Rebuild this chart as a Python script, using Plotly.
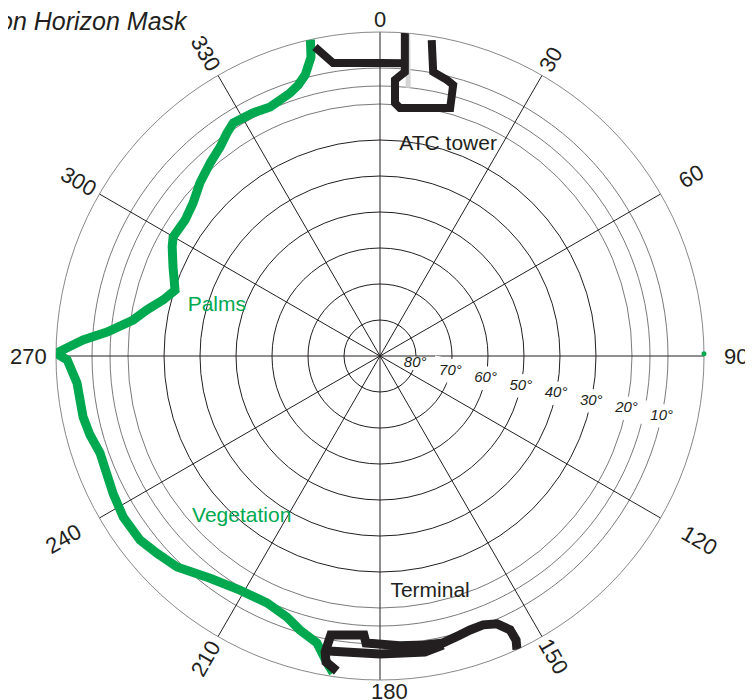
import math
import plotly.graph_objects as go

# ---------------- data (azimuth deg clockwise from N, elevation deg) ----------------
veg_az = [347.6, 347.0, 345.1, 343.2, 341.1, 336.2, 332.4, 327.8, 325.5, 322.6, 318.6,
          313.9, 309.3, 304.9, 299.9, 297.7, 293.3, 287.8, 284.5, 281.2, 278.3, 275.0,
          273.1, 270.5, 269.3, 264.9, 258.4, 254.8, 250.9, 242.8, 237.9, 232.5, 228.5,
          223.9, 217.4, 210.9, 204.6, 199.6, 196.3, 192.4, 189.8, 188.4]
veg_el = [0.0, 4.8, 9.2, 11.4, 12.8, 14.4, 13.8, 13.5, 14.9, 16.9, 18.6,
          20.6, 22.9, 24.0, 23.7, 24.8, 27.4, 30.2, 27.8, 24.0, 20.7, 13.9,
          7.4, 0.0, 3.1, 5.5, 5.8, 6.5, 7.7, 6.6, 5.8, 6.0, 7.3,
          8.7, 12.3, 14.2, 14.6, 13.0, 10.7, 8.4, 3.5, 1.0]

veg_dot_az = [89.6]
veg_dot_el = [0.0]

atc_az = [348.1, 350.9, 0.0, 4.5, None,
          4.4, 5.0, 3.1, 3.4, 4.6, 15.8, 15.1, 13.6, 10.6, 9.3]
atc_el = [2.3, 7.6, 8.6, 8.4, None,
          0.0, 10.8, 13.2, 19.6, 20.9, 18.4, 12.0, 11.1, 9.7, 1.1]

ghost_az = [4.9, 6.0]
ghost_el = [0.0, 15.1]

term_az = [187.8, 190.0, 190.5, 190.0, 183.3, 182.8, 176.1, 171.1, 167.6, 164.4,
           161.8, 159.0, 156.4, 154.6, 154.4, 155.0, None,
           190.0, 180.0, 171.4, 167.7]
term_el = [1.7, 3.7, 6.4, 11.3, 12.4, 10.2, 9.3, 8.75, 8.4, 9.3,
           9.9, 10.0, 8.8, 5.8, 2.5, 0.0, None,
           6.8, 7.2, 6.8, 7.8]

label_text = ["ATC tower", "Palms", "Vegetation", "Terminal"]
label_az = [17.9, 287.0, 220.7, 168.0]
label_el = [28.4, 42.6, 31.1, 23.1]

major_el = [80, 70, 60, 50, 40, 30]
minor_el = [20, 15, 10]
elev_label_vals = [80, 70, 60, 50, 40, 30, 20, 10]
elev_label_text = ["80°", "70°", "60°", "50°", "40°", "30°", "20°", "10°"]

az_ticks = [0, 30, 60, 90, 120, 150, 180, 210, 240, 270, 300, 330]
az_tick_text = ["0", "30", "60", "90", "120", "150", "180", "210", "240", "270", "300", "330"]

# ---------------- styling ----------------
DARK = "#231f20"
GRAY = "#7a7a7c"
GREEN = "#00a94f"
FONT = "Liberation Sans, Arial, sans-serif"


def zen(els):
    return [None if e is None else 90 - e for e in els]


fig = go.Figure()

# dummy trace so the under-layer polar (minor rings) is drawn
fig.add_trace(go.Scatterpolar(r=[0], theta=[0], mode="markers", marker=dict(opacity=0),
                              subplot="polar", hoverinfo="skip", showlegend=False))

# white band/mask where elevation labels sit
fig.add_trace(go.Scatterpolar(r=[15, 86], theta=[102, 102], mode="lines",
                              line=dict(color="white", width=24), subplot="polar2",
                              hoverinfo="skip", showlegend=False))
fig.add_trace(go.Scatterpolar(r=zen([80]), theta=[102], mode="markers",
                              marker=dict(color="white", size=14, symbol="circle"),
                              subplot="polar2", hoverinfo="skip", showlegend=False))

# elevation labels
fig.add_trace(go.Scatterpolar(r=zen(elev_label_vals), theta=[102] * len(elev_label_vals),
                              mode="text", text=elev_label_text, textposition="middle center",
                              textfont=dict(family=FONT, size=15, color=DARK, style="italic"),
                              subplot="polar2", hoverinfo="skip", showlegend=False))

# faint ghost line
fig.add_trace(go.Scatterpolar(r=zen(ghost_el), theta=ghost_az, mode="lines",
                              line=dict(color="#d4d4d4", width=5), subplot="polar2",
                              cliponaxis=False, showlegend=False))

# vegetation / palms mask
fig.add_trace(go.Scatterpolar(r=zen(veg_el), theta=veg_az, mode="lines",
                              line=dict(color=GREEN, width=9), subplot="polar2",
                              cliponaxis=False, showlegend=False, name="Vegetation"))
fig.add_trace(go.Scatterpolar(r=zen(veg_dot_el), theta=veg_dot_az, mode="markers",
                              marker=dict(color=GREEN, size=5), subplot="polar2",
                              cliponaxis=False, showlegend=False))

# ATC tower and terminal
fig.add_trace(go.Scatterpolar(r=zen(atc_el), theta=atc_az, mode="lines",
                              line=dict(color=DARK, width=8), connectgaps=False,
                              subplot="polar2", cliponaxis=False, showlegend=False,
                              name="ATC tower"))
fig.add_trace(go.Scatterpolar(r=zen(term_el), theta=term_az, mode="lines",
                              line=dict(color=DARK, width=9), connectgaps=False,
                              subplot="polar2", cliponaxis=False, showlegend=False,
                              name="Terminal"))

# obstruction labels
fig.add_trace(go.Scatterpolar(r=zen(label_el), theta=label_az, mode="text",
                              text=label_text, textposition="middle center",
                              textfont=dict(family=FONT, size=21,
                                            color=[DARK, GREEN, GREEN, DARK]),
                              subplot="polar2", cliponaxis=False, showlegend=False))

common_ang = dict(rotation=90, direction="clockwise", tickmode="array", tickvals=az_ticks,
                  showticklabels=False, ticks="")

# the page body adds an 8px offset, so the figure is sized to end at the window edge
fig.update_layout(
    width=745, height=692,
    margin=dict(l=48, r=49, t=24, b=20),
    paper_bgcolor="white",
    showlegend=False,
    polar=dict(
        domain=dict(x=[0, 1], y=[0, 1]),
        bgcolor="white",
        angularaxis=dict(**common_ang, showgrid=False, showline=False),
        radialaxis=dict(range=[0, 90], tickmode="array", tickvals=zen(minor_el),
                        showticklabels=False, ticks="", showline=False,
                        gridcolor=GRAY, gridwidth=0.8),
    ),
    polar2=dict(
        domain=dict(x=[0, 1], y=[0, 1]),
        bgcolor="rgba(0,0,0,0)",
        angularaxis=dict(**common_ang, showgrid=True, gridcolor=DARK, gridwidth=1,
                         showline=True, linecolor=GRAY, linewidth=0.9,
                         layer="below traces"),
        radialaxis=dict(range=[0, 90], tickmode="array", tickvals=zen(major_el),
                        showticklabels=False, ticks="", showline=False,
                        gridcolor=DARK, gridwidth=1.1, layer="below traces"),
    ),
)

# azimuth labels, rotated along the radial direction
label_r_px = [337, 342, 359, 356, 369, 347, 335, 349, 365, 352, 348, 349]
label_xshift = [0, 0, 0, 0, 0, 0, 9, 0, 0, 0, 0, 0]
plot_px = 648.0
annotations = []
for az, txt, rp, xs in zip(az_ticks, az_tick_text, label_r_px, label_xshift):
    a = math.radians(az)
    if az % 90 == 0:
        ang = 0
    elif az < 180:
        ang = az - 90
    else:
        ang = az - 270
    annotations.append(dict(
        x=0.5 + rp * math.sin(a) / plot_px, y=0.5 + rp * math.cos(a) / plot_px,
        xref="paper", yref="paper", text=txt, showarrow=False, textangle=ang,
        xanchor="center", yanchor="middle", xshift=xs,
        font=dict(family=FONT, size=22, color=DARK)))

# title (partially cut off on the left, as in the original)
annotations.append(dict(
    x=(190 - 56) / plot_px, y=(680 - 21) / plot_px, xref="paper", yref="paper",
    text="Obstruction Horizon Mask", showarrow=False, xanchor="right", yanchor="middle",
    font=dict(family=FONT, size=25, color=DARK, style="italic")))

fig.update_layout(annotations=annotations)

fig.write_html("out.html")
